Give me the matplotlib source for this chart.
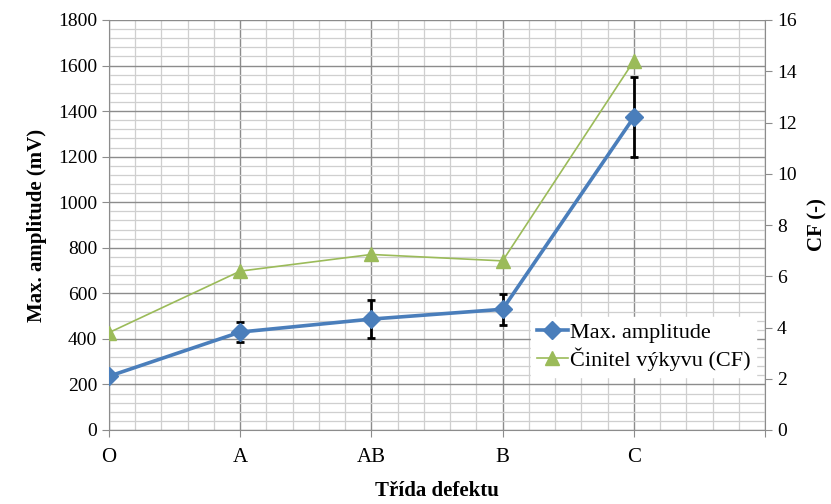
import matplotlib.pyplot as plt
from matplotlib.lines import Line2D
from matplotlib.ticker import MultipleLocator

plt.rcParams['font.family'] = ['Liberation Serif', 'DejaVu Serif']

categories = ['O', 'A', 'AB', 'B', 'C', '']
amplitude = [236, 430, 487, 530, 1373]
amplitude_err = [0, 42, 82, 67, 175]
cf = [3.8, 6.2, 6.85, 6.6, 14.4]

blue = '#4A7EBB'
green = '#9BBB59'

fig = plt.figure(figsize=(8.31, 5.04), dpi=100)
ax = fig.add_axes([109 / 831, 1 - 430 / 504, 656 / 831, 410 / 504])
ax2 = ax.twinx()

x = list(range(len(amplitude)))

# grid on primary axis
ax.set_xlim(0, len(categories) - 1)
ax.set_ylim(0, 1800)
ax.yaxis.set_major_locator(MultipleLocator(200))
ax.yaxis.set_minor_locator(MultipleLocator(40))
ax.xaxis.set_major_locator(MultipleLocator(1))
ax.xaxis.set_minor_locator(MultipleLocator(0.2))
ax.grid(which='major', color='#8c8c8c', linewidth=1.0)
ax.grid(which='minor', color='#cfcfcf', linewidth=0.9)
ax.set_axisbelow(True)
ax.set_xticks(range(len(categories)))
ax.set_xticklabels(categories)
ax.tick_params(axis='x', which='minor', length=0)
ax.tick_params(axis='x', which='major', length=5, color='#8c8c8c', labelsize=15, pad=8)
ax.tick_params(axis='y', which='minor', length=0)
ax.tick_params(axis='y', which='major', length=5, color='#8c8c8c', labelsize=14)
for s in ['top', 'right']:
    ax.spines[s].set_visible(False)
for s in ['left', 'bottom']:
    ax.spines[s].set_color('#8c8c8c')

ax.errorbar(x, amplitude, yerr=amplitude_err, color=blue, linewidth=2.6,
            marker='D', markersize=9, ecolor='black', elinewidth=2,
            capsize=3, capthick=2, zorder=3)

ax2.plot(x, cf, color=green, linewidth=1.2, marker='^', markersize=10, zorder=3)
ax2.set_ylim(0, 16)
ax2.yaxis.set_major_locator(MultipleLocator(2))
ax2.tick_params(axis='y', length=5, color='#8c8c8c', labelsize=14)
for s in ['top', 'left', 'bottom']:
    ax2.spines[s].set_visible(False)
ax2.spines['right'].set_color('#8c8c8c')

ax.set_ylabel('Max. amplitude (mV)', fontsize=15, fontweight='bold', labelpad=8)
ax2.set_ylabel('CF (-)', fontsize=15, fontweight='bold', labelpad=8)
ax.set_xlabel('Třída defektu', fontsize=15, fontweight='bold', labelpad=10)

handles = [Line2D([], [], color=blue, linewidth=2.6, marker='D', markersize=9),
           Line2D([], [], color=green, linewidth=1.2, marker='^', markersize=10)]
labels = ['Max. amplitude', 'Činitel výkyvu (CF)']
leg = ax2.legend(handles, labels, loc='upper left',
                 bbox_to_anchor=(520 / 831, 1 - 306 / 504), bbox_transform=fig.transFigure,
                 frameon=True, fancybox=False, edgecolor='white', framealpha=1,
                 fontsize=16, handlelength=1.4, handletextpad=0.1, borderpad=0.25,
                 labelspacing=0.2)

fig.savefig('out.png', dpi=100)
